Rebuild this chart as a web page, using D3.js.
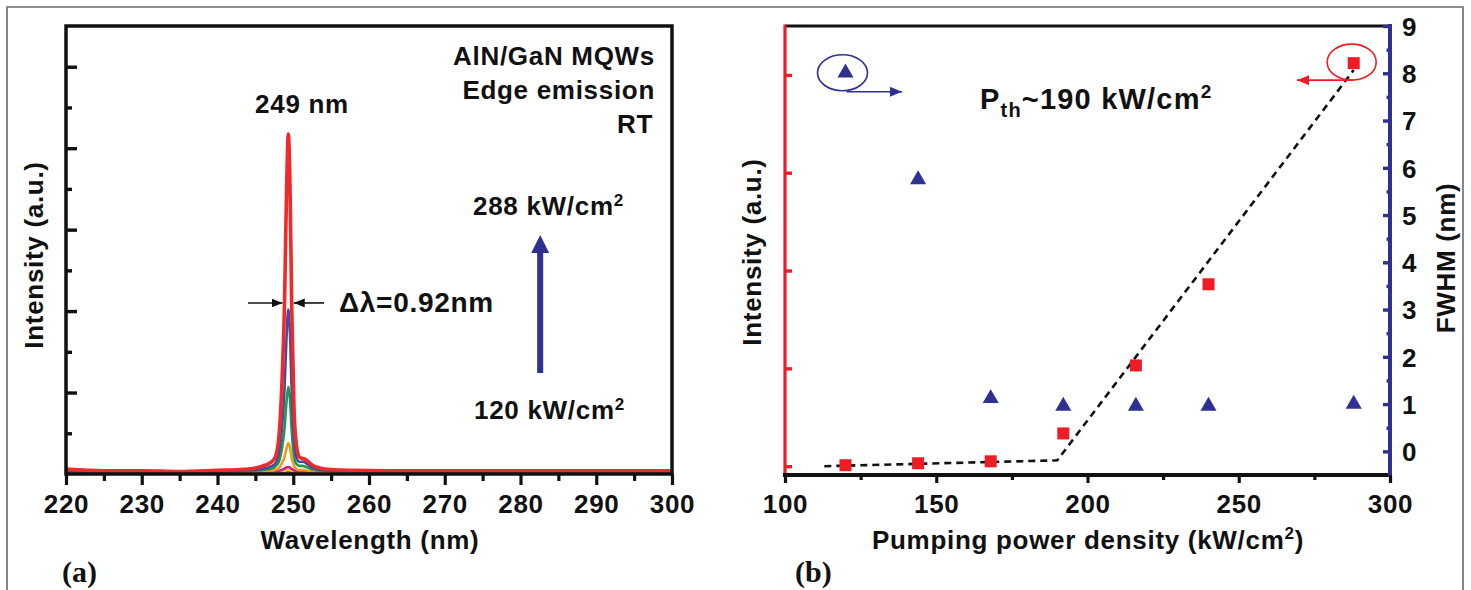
<!DOCTYPE html>
<html><head><meta charset="utf-8">
<script src="https://cdn.jsdelivr.net/npm/d3@7"></script>
<style>
html,body{margin:0;padding:0;background:#fff;}
svg text{font-family:"Liberation Sans",Arial,sans-serif;font-weight:bold;fill:#111;}
</style></head><body><svg id="c" width="1471" height="590"></svg>
<script>
// ---------- DATA ----------
// panel (a): emission spectra (wavelength in nm, intensity in a.u.)
const wavelength = [220,225,230,235,240,243,245,246,247,247.6,248.1,248.5,248.85,249.1,249.35,249.55,249.8,250.1,250.4,250.8,251.2,251.6,252.0,252.6,253.5,255,258,262,270,280,290,300];
const spec120 = [0.04,0.04,0.04,0.04,0.04,0.04,0.04,0.04,0.04,0.05,0.05,0.05,0.06,0.06,0.07,0.06,0.06,0.05,0.05,0.05,0.05,0.05,0.04,0.04,0.04,0.04,0.04,0.04,0.04,0.04,0.04,0.04];
const spec144 = [0.04,0.04,0.04,0.04,0.04,0.04,0.05,0.05,0.05,0.06,0.06,0.07,0.08,0.09,0.1,0.09,0.08,0.07,0.06,0.06,0.06,0.05,0.05,0.05,0.04,0.04,0.04,0.04,0.04,0.04,0.04,0.04];
const spec168 = [0.04,0.04,0.04,0.04,0.04,0.04,0.05,0.05,0.06,0.07,0.08,0.1,0.13,0.16,0.17,0.16,0.12,0.09,0.07,0.06,0.06,0.06,0.05,0.05,0.05,0.04,0.04,0.04,0.04,0.04,0.04,0.04];
const spec192 = [0.05,0.04,0.04,0.04,0.04,0.05,0.06,0.07,0.08,0.1,0.15,0.26,0.42,0.62,0.76,0.67,0.4,0.2,0.13,0.1,0.1,0.09,0.08,0.07,0.06,0.05,0.05,0.04,0.04,0.04,0.04,0.04];
const spec216 = [0.06,0.05,0.05,0.04,0.05,0.07,0.08,0.1,0.13,0.18,0.3,0.62,1.12,1.75,2.14,1.88,1.06,0.45,0.25,0.2,0.2,0.18,0.15,0.11,0.08,0.07,0.06,0.05,0.05,0.05,0.05,0.05];
const spec240 = [0.07,0.06,0.06,0.05,0.06,0.08,0.1,0.13,0.18,0.25,0.5,1.1,2.1,3.3,4.04,3.55,2.0,0.8,0.42,0.3,0.3,0.28,0.22,0.15,0.1,0.08,0.07,0.06,0.06,0.06,0.06,0.06];
const spec288 = [0.12,0.08,0.08,0.06,0.09,0.11,0.15,0.2,0.28,0.4,0.9,2.2,4.2,6.8,8.35,7.3,4.1,1.6,0.75,0.42,0.38,0.36,0.3,0.21,0.15,0.11,0.09,0.08,0.08,0.08,0.08,0.08];
const spectra = [spec120, spec144, spec168, spec192, spec216, spec240, spec288];
const spectraColors = ["#3a3a3a","#e6dc1e","#e0198c","#f39a1e","#1d9a4f","#4a4a9e","#ee2a2a"];
const xTicksA = [220,230,240,250,260,270,280,290,300];
const xMinorA = [225,235,245,255,265,275,285,295];
const yMajorA = [2,4,6,8,10];
const yMinorA = [1,3,5,7,9];

// panel (b): intensity & FWHM vs pumping power density
const power = [120,144,168,192,216,240,288];
const peakIntensity = [0.02,0.06,0.10,0.67,2.06,3.72,8.24];
const fwhm = [8.01,5.75,1.12,0.96,0.96,0.96,1.0];
const fitPower = [113,190,288];
const fitIntensity = [0.0,0.12,8.1];
const xTicksB = [100,150,200,250,300];
const xMinorB = [125,175,225,275];
const yTicksBL = [0,2,4,6,8];
const yTicksBR = [0,1,2,3,4,5,6,7,8,9];
const yMinorBR = [0.5,1.5,2.5,3.5,4.5,5.5,6.5,7.5,8.5];

// ---------- DRAW ----------
const svg = d3.select("#c");
const RED = "#ee1c24", BLUE = "#2e3192";
const FS = 26, LS = "0.7px";

// outer frame
svg.append("path").attr("d","M7,600 V7 H1463 V600").attr("fill","none").attr("stroke","#6b6b6b").attr("stroke-width",1.6);

const defs = svg.append("defs");
function marker(id, color, len, hw){
  defs.append("marker").attr("id",id).attr("viewBox",`0 0 ${len} ${2*hw}`).attr("refX",len).attr("refY",hw)
    .attr("markerWidth",len).attr("markerHeight",2*hw).attr("markerUnits","userSpaceOnUse").attr("orient","auto")
    .append("path").attr("d",`M0,0 L${len},${hw} L0,${2*hw} Z`).attr("fill",color);
}
marker("ak","#111",11,4.5);
marker("ab",BLUE,12,5);
marker("ar",RED,12,5);

function styleAxis(g, color, w){
  g.select(".domain").remove();
  g.selectAll(".tick line").attr("stroke",color).attr("stroke-width",w);
}

// ===== Panel (a) =====
const xA = d3.scaleLinear([220,300],[66,672]);
const yA = d3.scaleLinear([0,11],[474,26]);

const line = d3.line().x(d=>xA(d[0])).y(d=>yA(d[1])).curve(d3.curveMonotoneX);
spectra.forEach((s,i)=>{
  svg.append("path").datum(wavelength.map((w,j)=>[w,s[j]]))
    .attr("d",line).attr("fill","none").attr("stroke",spectraColors[i])
    .attr("stroke-width", i===spectra.length-1 ? 3.6 : 2.6).attr("stroke-linejoin","round");
});

svg.append("rect").attr("x",66).attr("y",26).attr("width",606).attr("height",448)
  .attr("fill","none").attr("stroke","#111").attr("stroke-width",3.5);

const axA = svg.append("g").attr("transform","translate(0,474)")
  .call(d3.axisBottom(xA).tickValues(xTicksA).tickSize(11).tickFormat(d3.format("d")));
styleAxis(axA,"#111",3.2);
axA.selectAll("text").attr("y",39).attr("dy",0).style("font-size",FS+"px").style("letter-spacing",LS).attr("fill","#111");
const axAm = svg.append("g").attr("transform","translate(0,474)")
  .call(d3.axisBottom(xA).tickValues(xMinorA).tickSize(7).tickFormat(""));
styleAxis(axAm,"#111",3.2);

const ayA = svg.append("g").attr("transform","translate(66,0)")
  .call(d3.axisRight(yA).tickValues(yMajorA).tickSize(11).tickFormat(""));
styleAxis(ayA,"#111",3.4);
const ayAm = svg.append("g").attr("transform","translate(66,0)")
  .call(d3.axisRight(yA).tickValues(yMinorA).tickSize(6).tickFormat(""));
styleAxis(ayAm,"#111",3.4);

const T = (x,y,txt,size,anchor)=>svg.append("text").attr("x",x).attr("y",y).attr("text-anchor",anchor||"start")
  .style("font-size",size+"px").style("letter-spacing",LS).text(txt);

T(370,549,"Wavelength (nm)",FS,"middle");
svg.append("text").attr("transform","translate(43,255) rotate(-90)").attr("text-anchor","middle")
  .style("font-size",FS+"px").style("letter-spacing",LS).text("Intensity (a.u.)");
svg.append("text").attr("x",62).attr("y",582).style("font-family","'Liberation Serif','Times New Roman',serif")
  .style("font-size","30px").text("(a)");

T(302,113,"249 nm",FS,"middle");
T(655,65,"AlN/GaN MQWs",FS,"end");
T(655,99,"Edge emission",FS,"end");
T(653,133,"RT",FS,"end");

function powerLabel(x,y,num){
  const t = svg.append("text").attr("x",x).attr("y",y).style("font-size",FS+"px").style("letter-spacing",LS);
  t.append("tspan").text(num+" kW/cm");
  t.append("tspan").attr("dy",-9).style("font-size","17px").text("2");
}
powerLabel(473,215,"288");
powerLabel(474,419,"120");

// big blue arrow (pump increase)
const ax = xA(282.6);
svg.append("rect").attr("x",ax-3).attr("y",yA(5.45)).attr("width",6).attr("height",yA(2.48)-yA(5.45)).attr("fill",BLUE);
svg.append("path").attr("d",`M${ax-9},${yA(5.45)+1} L${ax+9},${yA(5.45)+1} L${ax},${yA(5.87)} Z`).attr("fill",BLUE);

// FWHM arrows
const yArr = yA(4.2);
svg.append("line").attr("x1",248).attr("x2",xA(248.85)-2).attr("y1",yArr).attr("y2",yArr)
  .attr("stroke","#111").attr("stroke-width",1.6).attr("marker-end","url(#ak)");
svg.append("line").attr("x1",324).attr("x2",xA(249.8)+2).attr("y1",yArr).attr("y2",yArr)
  .attr("stroke","#111").attr("stroke-width",1.6).attr("marker-end","url(#ak)");
T(339,312,"Δλ=0.92nm",28,"start");

// ===== Panel (b) =====
const xB = d3.scaleLinear([100,300],[785,1390]);
const yBL = d3.scaleLinear([-0.18,9],[475,26]);
const yBR = d3.scaleLinear([-0.5,9],[475,26]);

// frame lines
svg.append("line").attr("x1",785).attr("x2",1390).attr("y1",26).attr("y2",26).attr("stroke","#111").attr("stroke-width",3);
svg.append("line").attr("x1",783).attr("x2",1392).attr("y1",475).attr("y2",475).attr("stroke","#111").attr("stroke-width",4);
svg.append("line").attr("x1",785).attr("x2",785).attr("y1",24.5).attr("y2",473).attr("stroke",RED).attr("stroke-width",3.2);
svg.append("line").attr("x1",1390).attr("x2",1390).attr("y1",24).attr("y2",477).attr("stroke",BLUE).attr("stroke-width",4);

const axB = svg.append("g").attr("transform","translate(0,475)")
  .call(d3.axisBottom(xB).tickValues(xTicksB).tickSize(8).tickFormat(d3.format("d")));
styleAxis(axB,"#111",3.2);
axB.selectAll("text").attr("y",38).attr("dy",0).style("font-size",FS+"px").style("letter-spacing",LS).attr("fill","#111");
const axBm = svg.append("g").attr("transform","translate(0,475)")
  .call(d3.axisBottom(xB).tickValues(xMinorB).tickSize(5).tickFormat(""));
styleAxis(axBm,"#111",3.2);

const ayBL = svg.append("g").attr("transform","translate(785,0)")
  .call(d3.axisRight(yBL).tickValues(yTicksBL).tickSize(7).tickFormat(""));
styleAxis(ayBL,RED,3.4);

const ayBR = svg.append("g").attr("transform","translate(1390,0)")
  .call(d3.axisLeft(yBR).tickValues(yTicksBR).tickSize(7).tickFormat(d3.format("d")));
styleAxis(ayBR,BLUE,3.4);
ayBR.selectAll("text").attr("x",12).attr("text-anchor","start").attr("dy","0.36em").style("font-size",FS+"px").attr("fill","#111");
const ayBRm = svg.append("g").attr("transform","translate(1390,0)")
  .call(d3.axisLeft(yBR).tickValues(yMinorBR).tickSize(3.5).tickFormat(""));
styleAxis(ayBRm,BLUE,3.4);

// fit line
const fitLine = d3.line().x(d=>xB(d[0])).y(d=>yBL(d[1]));
svg.append("path").datum(fitPower.map((p,i)=>[p,fitIntensity[i]])).attr("d",fitLine)
  .attr("fill","none").attr("stroke","#111").attr("stroke-width",2.6).attr("stroke-dasharray","7,5");

// squares
svg.selectAll(".sq").data(power.map((p,i)=>[p,peakIntensity[i]])).join("rect")
  .attr("x",d=>xB(d[0])-6).attr("y",d=>yBL(d[1])-6).attr("width",12).attr("height",12).attr("fill",RED);
// triangles
svg.selectAll(".tri").data(power.map((p,i)=>[p,fwhm[i]])).join("path")
  .attr("d",d3.symbol(d3.symbolTriangle,112)).attr("transform",d=>`translate(${xB(d[0])},${yBR(d[1])})`).attr("fill",BLUE);

// ellipses + arrows
const bx = xB(power[0]) - 3, by = yBR(fwhm[0]);
svg.append("ellipse").attr("cx",bx).attr("cy",by).attr("rx",25).attr("ry",18).attr("fill","none").attr("stroke",BLUE).attr("stroke-width",1.6);
svg.append("line").attr("x1",bx+4).attr("x2",902).attr("y1",by+19).attr("y2",by+19).attr("stroke",BLUE).attr("stroke-width",1.6).attr("marker-end","url(#ab)");
const rx = xB(power[6]) - 2, ry = yBL(peakIntensity[6]) - 1;
svg.append("ellipse").attr("cx",rx).attr("cy",ry).attr("rx",24.5).attr("ry",18).attr("fill","none").attr("stroke",RED).attr("stroke-width",1.6);
svg.append("line").attr("x1",rx+1).attr("x2",1297).attr("y1",ry+18).attr("y2",ry+18).attr("stroke",RED).attr("stroke-width",1.6).attr("marker-end","url(#ar)");

// P_th label
const pt = svg.append("text").attr("x",980).attr("y",109).style("font-size","29px").style("letter-spacing","1.2px");
pt.append("tspan").text("P");
pt.append("tspan").attr("dy",8).style("font-size","20px").text("th");
pt.append("tspan").attr("dy",-8).text("~190 kW/cm");
pt.append("tspan").attr("dy",-11).style("font-size","19px").text("2");

// axis titles
const xt = svg.append("text").attr("x",1088).attr("y",549).attr("text-anchor","middle").style("font-size",FS+"px").style("letter-spacing",LS);
xt.append("tspan").text("Pumping power density (kW/cm");
xt.append("tspan").attr("dy",-10).style("font-size","17px").text("2");
xt.append("tspan").attr("dy",10).text(")");
svg.append("text").attr("transform","translate(761,252) rotate(-90)").attr("text-anchor","middle")
  .style("font-size",FS+"px").style("letter-spacing",LS).text("Intensity (a.u.)");
svg.append("text").attr("transform","translate(1455,258) rotate(-90)").attr("text-anchor","middle")
  .style("font-size",FS+"px").style("letter-spacing",LS).text("FWHM (nm)");
svg.append("text").attr("x",795).attr("y",582).style("font-family","'Liberation Serif','Times New Roman',serif")
  .style("font-size","30px").text("(b)");
</script></body></html>
